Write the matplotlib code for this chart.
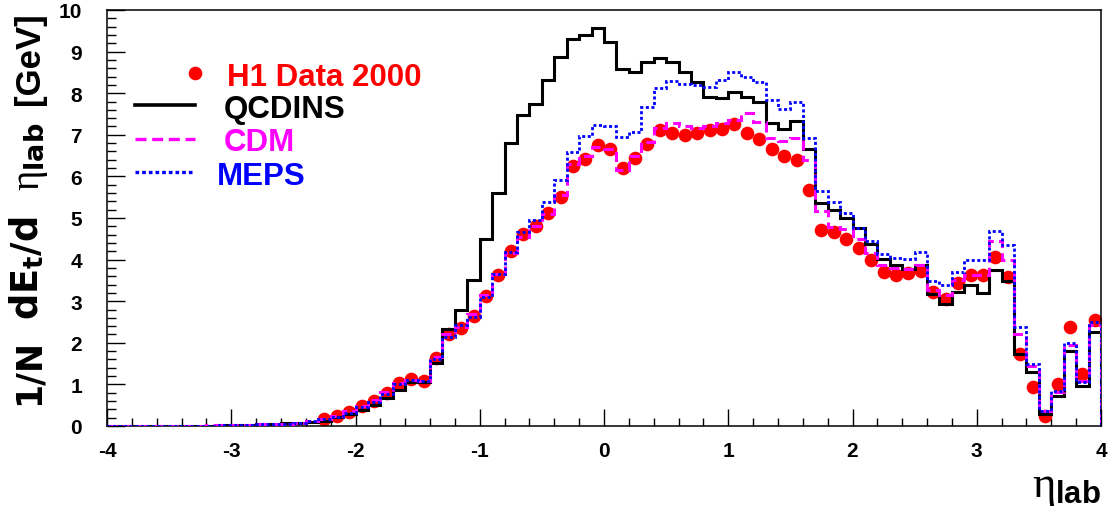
import numpy as np
import matplotlib
matplotlib.use("Agg")
import matplotlib.pyplot as plt
from matplotlib.ticker import MultipleLocator
from matplotlib.lines import Line2D

plt.rcParams.update({
    "font.family": ["Liberation Sans", "DejaVu Sans"],
    "axes.unicode_minus": False,
    "mathtext.fontset": "custom",
    "mathtext.rm": "Liberation Sans:bold",
    "mathtext.bf": "Liberation Sans:bold",
    "mathtext.it": "Liberation Serif:normal",
    "mathtext.sf": "DejaVu Sans:bold",
})

# eta_lab binning: 80 bins of width 0.1 from -4 to 4
eta_edges = np.round(np.arange(-4.0, 4.0001, 0.1), 2)

qcdins = [0.00, 0.00, 0.00, 0.00, 0.00, 0.00, 0.01, 0.01, 0.01, 0.02,
          0.02, 0.03, 0.04, 0.05, 0.07, 0.08, 0.10, 0.12, 0.22, 0.30,
          0.39, 0.51, 0.67, 0.87, 1.05, 1.05, 1.52, 2.34, 2.80, 3.50,
          4.49, 5.60, 6.81, 7.48, 7.74, 8.31, 8.88, 9.30, 9.40, 9.57,
          9.23, 8.58, 8.52, 8.76, 8.85, 8.76, 8.52, 8.27, 7.92, 7.88,
          8.04, 7.90, 7.80, 7.28, 7.14, 7.33, 6.67, 5.37, 5.20, 5.00,
          4.75, 4.37, 4.01, 3.86, 3.77, 3.86, 3.18, 2.94, 3.22, 3.40,
          3.20, 3.76, 3.49, 1.73, 1.29, 0.29, 0.72, 1.80, 0.97, 2.26]

cdm = [0.00, 0.00, 0.00, 0.00, 0.00, 0.01, 0.01, 0.01, 0.02, 0.02,
       0.02, 0.03, 0.04, 0.05, 0.06, 0.08, 0.12, 0.17, 0.25, 0.35,
       0.48, 0.62, 0.82, 1.04, 1.10, 1.08, 1.65, 2.20, 2.38, 2.70,
       3.15, 3.65, 4.15, 4.55, 4.80, 5.10, 5.55, 6.30, 6.50, 6.70,
       6.65, 6.15, 6.50, 6.83, 7.16, 7.28, 7.22, 7.16, 7.20, 7.28,
       7.36, 7.52, 7.30, 6.92, 6.84, 6.93, 6.39, 5.16, 4.78, 4.73,
       4.49, 4.17, 3.88, 3.80, 3.77, 3.88, 3.26, 3.14, 3.50, 3.64,
       3.64, 4.44, 4.00, 2.22, 1.45, 0.35, 0.81, 1.94, 1.07, 2.43]

meps = [0.00, 0.00, 0.00, 0.00, 0.00, 0.01, 0.01, 0.01, 0.01, 0.02,
        0.02, 0.03, 0.04, 0.05, 0.06, 0.08, 0.11, 0.16, 0.22, 0.32,
        0.45, 0.58, 0.78, 1.00, 1.10, 1.08, 1.60, 2.14, 2.42, 2.63,
        3.10, 3.66, 4.19, 4.67, 4.95, 5.39, 5.91, 6.59, 6.96, 7.24,
        7.20, 6.95, 7.07, 7.68, 8.12, 8.30, 8.22, 8.20, 8.14, 8.32,
        8.50, 8.40, 8.28, 7.84, 7.61, 7.80, 6.93, 5.65, 5.39, 5.11,
        4.75, 4.44, 4.14, 4.05, 4.02, 4.18, 3.49, 3.38, 3.70, 4.00,
        4.00, 4.68, 4.34, 2.38, 1.49, 0.37, 0.85, 1.99, 1.05, 2.50]

nan = np.nan
h1_data = [nan, nan, nan, nan, nan, nan, nan, nan, nan, nan,
           nan, nan, nan, nan, nan, nan, nan, 0.17, 0.23, 0.33,
           0.47, 0.60, 0.79, 1.03, 1.13, 1.07, 1.63, 2.21, 2.36, 2.65,
           3.13, 3.64, 4.21, 4.61, 4.81, 5.11, 5.51, 6.24, 6.42, 6.75,
           6.67, 6.19, 6.44, 6.78, 7.12, 7.05, 6.99, 7.04, 7.12, 7.14,
           7.25, 7.04, 6.91, 6.67, 6.49, 6.39, 5.68, 4.71, 4.67, 4.50,
           4.27, 3.98, 3.69, 3.62, 3.68, 3.73, 3.23, 3.06, 3.44, 3.63,
           3.64, 4.07, 3.57, 1.72, 0.93, 0.23, 1.00, 2.38, 1.24, 2.55]

legend_labels = ["H1 Data 2000", "QCDINS", "CDM", "MEPS"]

W, H = 1109, 510
fig = plt.figure(figsize=(W / 100, H / 100), dpi=100)
ax = fig.add_axes([107 / W, 1 - 427 / H, (1101 - 107) / W, (427 - 11) / H])

eta_centers = 0.5 * (eta_edges[:-1] + eta_edges[1:])

RED = "#ff0000"
MAG = "#ff00ff"
BLUE = "#0000ff"

mag_dash = (0, (3.3, 1.7))
blue_dot = (0, (1.1, 0.9))

ax.plot(eta_centers, h1_data, "o", color=RED, ms=8.8, mec=RED, zorder=2)
ax.stairs(qcdins, eta_edges, baseline=0, color="black", lw=2.2, zorder=3)
ax.stairs(cdm, eta_edges, baseline=0, color=MAG, lw=2.2, linestyle=mag_dash, zorder=4)
ax.stairs(meps, eta_edges, baseline=0, color=BLUE, lw=2.0, linestyle=blue_dot, zorder=5)

ax.set_xlim(-4, 4)
ax.set_ylim(0, 10)
ax.xaxis.set_major_locator(MultipleLocator(1))
ax.xaxis.set_minor_locator(MultipleLocator(0.2))
ax.yaxis.set_major_locator(MultipleLocator(1))
ax.yaxis.set_minor_locator(MultipleLocator(0.2))
ax.tick_params(axis="both", which="both", direction="in", width=1.0,
               labelsize=15, top=False, right=False)
ax.tick_params(axis="x", which="major", length=12.2, pad=11)
ax.tick_params(axis="x", which="minor", length=6)
ax.tick_params(axis="y", which="major", length=13.2, pad=18)
ax.tick_params(axis="y", which="minor", length=6.5)
for lab in ax.get_xticklabels() + ax.get_yticklabels():
    lab.set_fontweight("bold")
for sp in ax.spines.values():
    sp.set_linewidth(1.1)


def fx(px):
    return px / W


def fy(py):
    return 1 - py / H


# x-axis title
fig.text(fx(1066), fy(487), r"$\eta_{\mathbf{lab}}$", fontsize=32,
         ha="center", va="center")

# y-axis title, set in pieces along a common baseline
ytitle_parts = [
    ("1/N", 372, 25, "DejaVu Sans"),
    (r"dE$_{\mathsf{t}}$/d", 268, 26.5, "DejaVu Sans"),
    (r"$\eta_{\mathsf{lab}}$", 157, 28, "DejaVu Sans"),
    ("[GeV]", 59, 25, "Liberation Sans"),
]
for txt, py, size, fam in ytitle_parts:
    fig.text(fx(39), fy(py), txt, fontsize=size, fontweight="bold",
             family=fam,
             rotation=90, rotation_mode="anchor", ha="center", va="baseline")

# legend drawn in figure pixels
fig.add_artist(Line2D([fx(195)], [fy(74)], marker="o", ms=8.8, color=RED,
                      transform=fig.transFigure))
fig.add_artist(Line2D([fx(135), fx(195)], [fy(106)] * 2, color="black", lw=2.6,
                      transform=fig.transFigure))
fig.add_artist(Line2D([fx(135), fx(195)], [fy(139.5)] * 2, color=MAG, lw=2.4,
                      linestyle=mag_dash, transform=fig.transFigure))
fig.add_artist(Line2D([fx(135), fx(195)], [fy(173)] * 2, color=BLUE, lw=2.4,
                      linestyle=blue_dot, transform=fig.transFigure))

legend_pos = [(227, 85.7, RED), (224, 118, "black"), (224, 150.7, MAG), (217, 185, BLUE)]
for label, (px, py, col) in zip(legend_labels, legend_pos):
    fig.text(fx(px), fy(py), label, fontsize=22.5, fontweight="bold", color=col,
             ha="left", va="baseline")

fig.savefig("out.png", dpi=100)
